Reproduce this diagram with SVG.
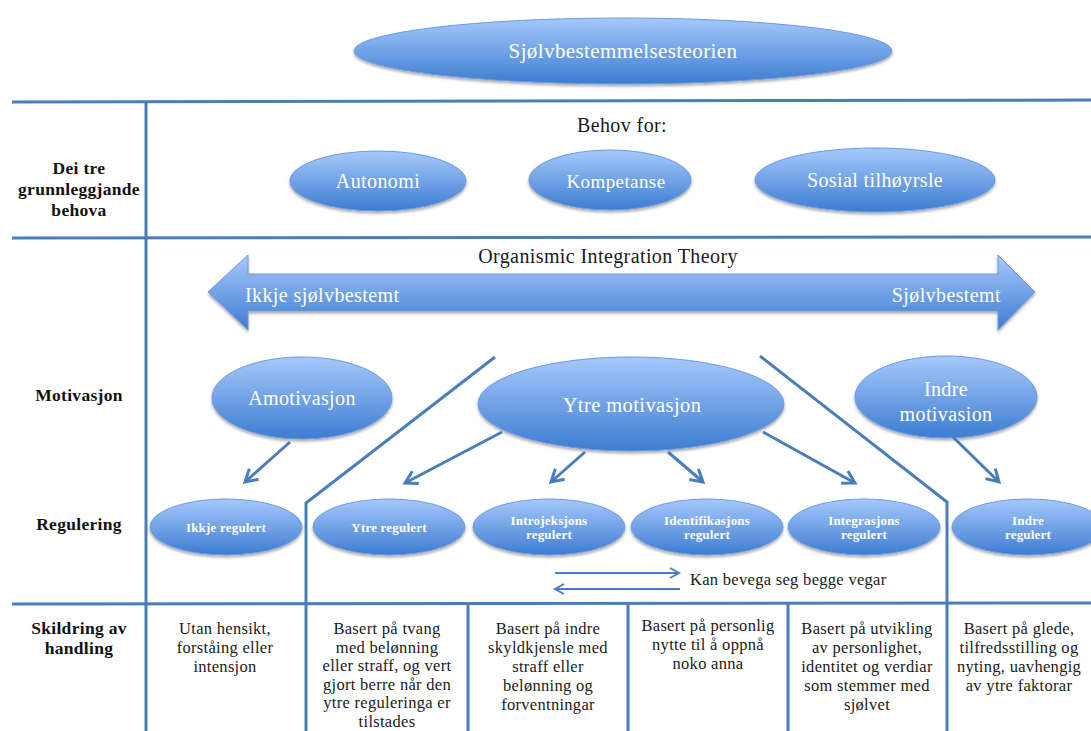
<svg xmlns="http://www.w3.org/2000/svg" width="1091" height="731" viewBox="0 0 1091 731">
<style>
.bg{fill:#ffffff}
.ell{fill:url(#g);stroke:#6d9be0;stroke-width:1;filter:url(#sh)}
.grid{stroke:#4a7ebb;stroke-width:3;fill:none}
.wt{fill:#ffffff;font-family:"Liberation Serif","DejaVu Serif",serif;text-anchor:middle;letter-spacing:0.4px}
.wts{fill:#ffffff;font-family:"Liberation Serif","DejaVu Serif",serif;font-weight:bold;font-size:13px;text-anchor:middle;letter-spacing:0.2px}
.lbl{fill:#111111;font-family:"Liberation Serif","DejaVu Serif",serif;font-weight:bold;font-size:17.5px;text-anchor:middle;letter-spacing:0.3px}
.bt{fill:#1a1a1a;font-family:"Liberation Serif","DejaVu Serif",serif;font-size:16.5px;text-anchor:middle;letter-spacing:0.3px}
.hd{fill:#1a1a1a;font-family:"Liberation Serif","DejaVu Serif",serif;font-size:20px;text-anchor:middle;letter-spacing:0.4px}
.con{stroke:#4a7ebb;stroke-width:3;fill:none;marker-end:url(#ah)}
.con2{stroke:#4a7ebb;stroke-width:2;fill:none;marker-end:url(#ah2)}
</style>
<defs>
<linearGradient id="g" x1="0" y1="0" x2="0" y2="1">
<stop offset="0" stop-color="#a6c9fb"/>
<stop offset="1" stop-color="#3d7cd1"/>
</linearGradient>
<filter id="sh" x="-10%" y="-20%" width="120%" height="150%">
<feDropShadow dx="0" dy="2" stdDeviation="1.8" flood-color="#000000" flood-opacity="0.35"/>
</filter>
<marker id="ah" markerUnits="userSpaceOnUse" markerWidth="18" markerHeight="18" viewBox="0 0 18 18" refX="15" refY="9" orient="auto">
<path d="M3,2 L15,9 L3,16" fill="none" stroke="#4a7ebb" stroke-width="3"/>
</marker>
<marker id="ah2" markerUnits="userSpaceOnUse" markerWidth="14" markerHeight="14" viewBox="0 0 14 14" refX="12" refY="7" orient="auto">
<path d="M3,2 L12,7 L3,12" fill="none" stroke="#4a7ebb" stroke-width="2"/>
</marker>
</defs>
<rect class="bg" x="0" y="0" width="1091" height="731"/>

<g id="grid">
<line class="grid" x1="12" y1="102" x2="1091" y2="100"/>
<line class="grid" x1="12" y1="238" x2="1091" y2="237"/>
<line class="grid" x1="12" y1="604" x2="1091" y2="603"/>
<line class="grid" x1="146" y1="101" x2="146" y2="731"/>
<line class="grid" x1="468" y1="604" x2="468" y2="731"/>
<line class="grid" x1="628" y1="604" x2="628" y2="731"/>
<line class="grid" x1="788" y1="604" x2="788" y2="731"/>
<polyline class="grid" points="495,357 306,503 306,731"/>
<polyline class="grid" points="760,356 947,502 947,731"/>
</g>

<g id="title">
<ellipse class="ell" cx="623" cy="51" rx="269" ry="33"/>
<text class="wt" x="623" y="58" font-size="21">Sjølvbestemmelsesteorien</text>
</g>

<g id="labels">
<text class="lbl" x="79" y="174">Dei tre</text>
<text class="lbl" x="79" y="195">grunnleggjande</text>
<text class="lbl" x="79" y="216">behova</text>
<text class="lbl" x="79" y="401">Motivasjon</text>
<text class="lbl" x="79" y="530">Regulering</text>
<text class="lbl" x="79" y="634">Skildring av</text>
<text class="lbl" x="79" y="654">handling</text>
</g>

<text class="hd" x="622" y="132">Behov for:</text>

<g id="autonomi">
<ellipse class="ell" cx="378" cy="181" rx="88" ry="30"/>
<text class="wt" x="378" y="188" font-size="20">Autonomi</text>
</g>
<g id="kompetanse">
<ellipse class="ell" cx="610" cy="180" rx="81" ry="30"/>
<text class="wt" x="616" y="188" font-size="19">Kompetanse</text>
</g>
<g id="sosial">
<ellipse class="ell" cx="875" cy="180" rx="120" ry="32"/>
<text class="wt" x="875" y="187" font-size="20">Sosial tilhøyrsle</text>
</g>

<text class="hd" x="608" y="263">Organismic Integration Theory</text>

<g id="oit-arrow">
<polygon class="ell" points="208,292 248,255 248,274 998,274 998,255 1035,292 998,330 998,311 248,311 248,330"/>
<text class="wt" x="245" y="302" font-size="20" style="text-anchor:start">Ikkje sjølvbestemt</text>
<text class="wt" x="1001" y="302" font-size="20" style="text-anchor:end">Sjølvbestemt</text>
</g>

<g id="amotivasjon">
<ellipse class="ell" cx="302" cy="398" rx="90" ry="41"/>
<text class="wt" x="302" y="405" font-size="20">Amotivasjon</text>
</g>
<g id="ytre-motivasjon">
<ellipse class="ell" cx="631" cy="404" rx="153" ry="47"/>
<text class="wt" x="632" y="412" font-size="20.5">Ytre motivasjon</text>
</g>
<g id="indre-motivasjon">
<ellipse class="ell" cx="946" cy="397" rx="91" ry="41"/>
<text class="wt" x="946" y="396" font-size="20">Indre</text>
<text class="wt" x="946" y="421" font-size="20">motivasion</text>
</g>

<g id="ikkje-regulert">
<ellipse class="ell" cx="226" cy="527" rx="76" ry="28"/>
<text class="wts" x="226" y="532">Ikkje regulert</text>
</g>
<g id="ytre-regulert">
<ellipse class="ell" cx="389" cy="527" rx="76" ry="28"/>
<text class="wts" x="389" y="532">Ytre regulert</text>
</g>
<g id="introjeksjons">
<ellipse class="ell" cx="549" cy="527" rx="76" ry="28"/>
<text class="wts" x="549" y="525">Introjeksjons</text>
<text class="wts" x="549" y="539">regulert</text>
</g>
<g id="identifikasjons">
<ellipse class="ell" cx="707" cy="527" rx="76" ry="28"/>
<text class="wts" x="707" y="525">Identifikasjons</text>
<text class="wts" x="707" y="539">regulert</text>
</g>
<g id="integrasjons">
<ellipse class="ell" cx="864" cy="527" rx="76" ry="28"/>
<text class="wts" x="864" y="525">Integrasjons</text>
<text class="wts" x="864" y="539">regulert</text>
</g>
<g id="indre-regulert">
<ellipse class="ell" cx="1028" cy="527" rx="76" ry="28"/>
<text class="wts" x="1028" y="525">Indre</text>
<text class="wts" x="1028" y="539">regulert</text>
</g>

<g id="connectors">
<line class="con" x1="290" y1="442" x2="245" y2="482"/>
<line class="con" x1="502" y1="432" x2="405" y2="483"/>
<line class="con" x1="585" y1="452" x2="551" y2="482"/>
<line class="con" x1="668" y1="452" x2="703" y2="482"/>
<line class="con" x1="763" y1="432" x2="855" y2="483"/>
<line class="con" x1="953" y1="437" x2="999" y2="482"/>
<line class="con2" x1="555" y1="573" x2="679" y2="573"/>
<line class="con2" x1="680" y1="589" x2="555" y2="589"/>
</g>
<text class="bt" x="690" y="585" style="text-anchor:start" font-size="18">Kan bevega seg begge vegar</text>

<g id="desc-1">
<text class="bt" x="225" y="634">Utan hensikt,</text>
<text class="bt" x="225" y="653">forståing eller</text>
<text class="bt" x="225" y="672">intensjon</text>
</g>
<g id="desc-2">
<text class="bt" x="387" y="634">Basert på tvang</text>
<text class="bt" x="387" y="652.6">med belønning</text>
<text class="bt" x="387" y="671.2">eller straff, og vert</text>
<text class="bt" x="387" y="689.8">gjort berre når den</text>
<text class="bt" x="387" y="708.4">ytre reguleringa er</text>
<text class="bt" x="387" y="727">tilstades</text>
</g>
<g id="desc-3">
<text class="bt" x="548" y="634">Basert på indre</text>
<text class="bt" x="548" y="653">skyldkjensle med</text>
<text class="bt" x="548" y="672">straff eller</text>
<text class="bt" x="548" y="691">belønning og</text>
<text class="bt" x="548" y="710">forventningar</text>
</g>
<g id="desc-4">
<text class="bt" x="708" y="631">Basert på personlig</text>
<text class="bt" x="708" y="650">nytte til å oppnå</text>
<text class="bt" x="708" y="669">noko anna</text>
</g>
<g id="desc-5">
<text class="bt" x="867" y="634">Basert på utvikling</text>
<text class="bt" x="867" y="653">av personlighet,</text>
<text class="bt" x="867" y="672">identitet og verdiar</text>
<text class="bt" x="867" y="691">som stemmer med</text>
<text class="bt" x="867" y="710">sjølvet</text>
</g>
<g id="desc-6">
<text class="bt" x="1019" y="634">Basert på glede,</text>
<text class="bt" x="1019" y="653">tilfredsstilling og</text>
<text class="bt" x="1019" y="672">nyting, uavhengig</text>
<text class="bt" x="1019" y="691">av ytre faktorar</text>
</g>
</svg>
